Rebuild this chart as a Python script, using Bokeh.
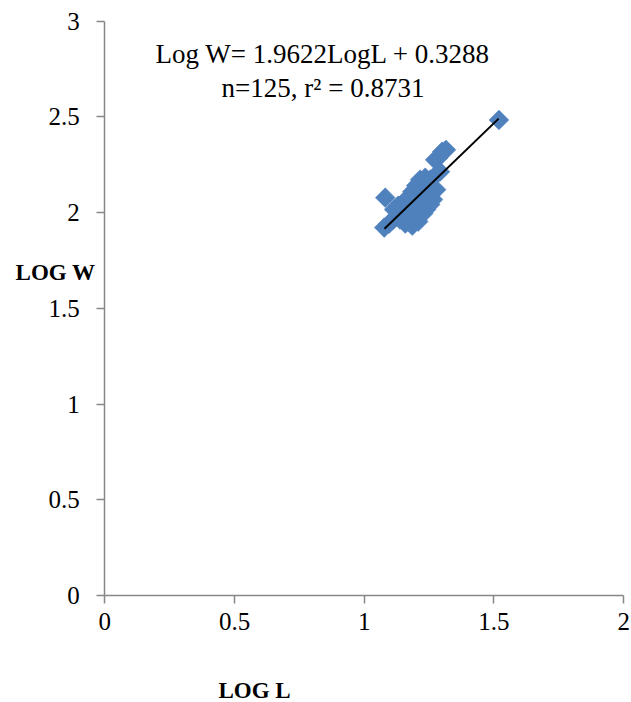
from bokeh.plotting import figure
from bokeh.models import Label, Range1d, FixedTicker
from bokeh.embed import file_html
from bokeh.resources import INLINE

# Data
log_l = [1.077, 1.519, 1.081, 1.300, 1.273, 1.315, 1.285, 1.096, 1.112, 1.127,
         1.138, 1.146, 1.158, 1.169, 1.181, 1.162, 1.177, 1.192, 1.204, 1.215,
         1.227, 1.238, 1.254, 1.196, 1.212, 1.223, 1.238, 1.254, 1.265, 1.246,
         1.231, 1.200, 1.215, 1.235, 1.254, 1.273, 1.292, 1.185, 1.169, 1.154,
         1.131, 1.115, 1.185, 1.208, 1.185, 1.242, 1.265, 1.277, 1.227, 1.200]
log_w = [1.922, 2.484, 2.078, 2.318, 2.276, 2.328, 2.286, 1.943, 1.964, 1.984,
         1.964, 2.005, 1.943, 1.974, 1.943, 2.026, 2.047, 2.016, 1.990, 2.016,
         2.042, 2.016, 2.042, 2.078, 2.104, 2.078, 2.099, 2.089, 2.120, 2.141,
         2.130, 2.141, 2.172, 2.182, 2.172, 2.193, 2.214, 2.109, 2.078, 2.057,
         2.036, 2.016, 1.990, 1.953, 1.932, 2.068, 2.068, 2.120, 1.995, 2.047]
trend_x = [1.078, 1.518]
trend_y = [1.916, 2.491]
x_ticks = [0, 0.5, 1, 1.5, 2]
y_ticks = [0, 0.5, 1, 1.5, 2, 2.5, 3]
eq_line1 = "Log W= 1.9622LogL + 0.3288"
eq_line2 = "n=125, r\u00b2 = 0.8731"
x_title = "LOG L"
y_title = "LOG W"

FONT = "Liberation Serif"
AXIS_COLOR = "#878787"

# The frame fills the whole canvas; the axes sit at x=0 / y=0 inside it,
# so the outside titles can be plain labels.
p = figure(width=631, height=702, output_backend="svg", toolbar_location=None,
           x_range=Range1d(-0.402, 2.030), y_range=Range1d(-0.559, 3.108),
           min_border_left=0, min_border_right=0, min_border_top=0,
           min_border_bottom=0)
p.outline_line_color = None
p.grid.visible = False

p.xaxis[0].fixed_location = 0
p.yaxis[0].fixed_location = 0
p.xaxis[0].bounds = (0, 2)
p.yaxis[0].bounds = (0, 3)

for ax in (p.xaxis[0], p.yaxis[0]):
    ax.axis_line_color = AXIS_COLOR
    ax.axis_line_width = 1.5
    ax.major_tick_line_color = AXIS_COLOR
    ax.major_tick_line_width = 1.5
    ax.major_tick_out = 8
    ax.major_tick_in = 0
    ax.minor_tick_line_color = None
    ax.major_label_text_font = FONT
    ax.major_label_text_font_size = "25px"
    ax.major_label_text_color = "black"

p.xaxis[0].ticker = FixedTicker(ticks=x_ticks)
p.yaxis[0].ticker = FixedTicker(ticks=y_ticks)
p.xaxis[0].major_label_standoff = 10
p.yaxis[0].major_label_standoff = 17

p.scatter(log_l, log_w, marker="square", size=14, angle=0.785398,
          fill_color="#4F81BD", line_color="#4F81BD", line_width=0.5)
p.line(trend_x, trend_y, line_color="black", line_width=2)

p.add_layout(Label(x=0.841, y=2.83, text=eq_line1, text_font=FONT,
                   text_font_size="27px", text_align="center",
                   text_baseline="middle", text_color="black"))
p.add_layout(Label(x=0.841, y=2.65, text=eq_line2, text_font=FONT,
                   text_font_size="27px", text_align="center",
                   text_baseline="middle", text_color="black"))
p.add_layout(Label(x=-0.344, y=1.688, text=y_title, text_font=FONT,
                   text_font_size="23px", text_font_style="bold",
                   text_align="left", text_baseline="middle", text_color="black"))
p.add_layout(Label(x=0.438, y=-0.496, text=x_title, text_font=FONT,
                   text_font_size="23px", text_font_style="bold",
                   text_align="left", text_baseline="middle", text_color="black"))

open("out.html", "w").write(file_html(p, INLINE))
